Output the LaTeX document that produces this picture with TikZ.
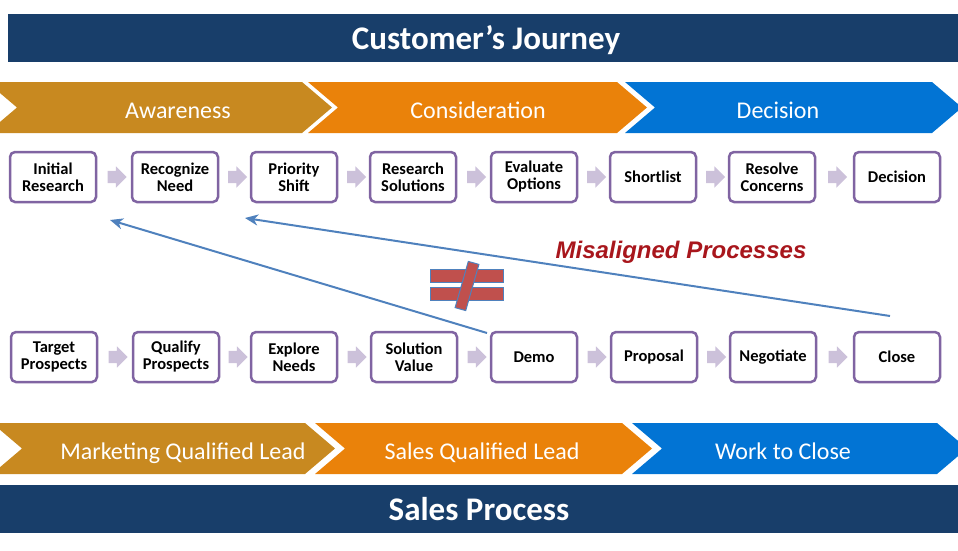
\documentclass[tikz,border=0pt]{standalone}
\usepackage{fontspec}
\setmainfont{Carlito}
\newfontfamily\alertfont{Liberation Sans}
\usetikzlibrary{shapes.arrows,arrows.meta,calc}

\definecolor{banner}{RGB}{24,62,106}
\definecolor{phasegold}{RGB}{200,137,32}
\definecolor{phaseorange}{RGB}{234,130,10}
\definecolor{phaseblue}{RGB}{2,116,212}
\definecolor{stageedge}{RGB}{128,100,162}
\definecolor{steparrow}{RGB}{204,193,218}
\definecolor{linkblue}{RGB}{79,129,189}
\definecolor{neqred}{RGB}{192,80,77}
\definecolor{alertred}{RGB}{168,22,28}

\tikzset{
  every stage/.style={draw=stageedge, line width=2.5pt, rounded corners=5pt,
    fill=white, minimum width=86pt, minimum height=50pt, inner sep=0pt,
    align=center, font=\bfseries\fontsize{16.5}{17}\selectfont},
  flow arrow/.style={single arrow, fill=steparrow, draw=none,
    minimum height=19pt, minimum width=21pt, single arrow head extend=4.5pt,
    inner xsep=0pt, inner ysep=6pt},
  phase label/.style={text=white, anchor=base, font=\fontsize{24}{24}\selectfont},
  banner label/.style={text=white, anchor=base, font=\bfseries\fontsize{33}{33}\selectfont},
  neq/.style={fill=neqred, draw=linkblue, line width=1pt},
  link/.style={draw=linkblue, line width=2pt, -{Stealth[length=13pt, width=11pt, inset=4pt]}}
}

\begin{document}
\begin{tikzpicture}[x=1pt, y=-1pt]
  \useasboundingbox (0,0) rectangle (958,551);

  % customer's journey
  \fill[banner] (8,14) rectangle (958,62);
  \node[banner label] (journey-title) at (486,50) {Customer’s Journey};

  \foreach \a/\b/\c in {-13/302/phasegold, 308/617/phaseorange, 625/932/phaseblue}
    \fill[\c] (\a,82) -- (\b,82) -- (\b+30,107.5) -- (\b,133) -- (\a,133) -- (\a+30,107.5) -- cycle;
  \foreach \l/\x [count=\i] in {Awareness/178, Consideration/478, Decision/778}
    \node[phase label] (journey-phase-\i) at (\x,118) {\l};

  \foreach \t/\x [count=\i] in {{Initial\\Research}/53, {Recognize\\Need}/175,
      {Priority\\Shift}/294, {Research\\Solutions}/413, {Evaluate\\Options}/534,
      Shortlist/653, {Resolve\\Concerns}/772, Decision/897}
    \node[every stage] (journey-\i) at (\x,177) {\t};
  \foreach \i [count=\j from 2] in {1,...,7}
    \node[flow arrow] (journey-step-\i) at ($(journey-\i.east)!0.5!(journey-\j.west)$) {};

  % sales process
  \foreach \t/\x [count=\i] in {{Target\\Prospects}/54, {Qualify\\Prospects}/176,
      {Explore\\Needs}/294, {Solution\\Value}/414, Demo/534,
      Proposal/654, Negotiate/773, Close/897}
    \node[every stage] (sales-\i) at (\x,357) {\t};
  \foreach \i [count=\j from 2] in {1,...,7}
    \node[flow arrow] (sales-step-\i) at ($(sales-\i.east)!0.5!(sales-\j.west)$) {};

  \foreach \a/\b/\c in {-8/305/phasegold, 315/622/phaseorange, 632/937/phaseblue}
    \fill[\c] (\a,423) -- (\b,423) -- (\b+30,448.5) -- (\b,474) -- (\a,474) -- (\a+30,448.5) -- cycle;
  \foreach \l/\x [count=\i] in {Marketing Qualified Lead/183, Sales Qualified Lead/482, Work to Close/783}
    \node[phase label] (sales-phase-\i) at (\x,459) {\l};

  \fill[banner] (0,485) rectangle (958,533);
  \node[banner label] (sales-title) at (479,520) {Sales Process};

  % not equal
  \draw[neq] (430,269) rectangle (503,282);
  \draw[neq] (430,287) rectangle (503,300);
  \draw[neq] (468.3,261.4) -- (478.9,264.4) -- (465.7,310.6) -- (455.1,307.6) -- cycle;

  % misaligned links
  \coordinate (demo-tail) at (487,333);
  \coordinate (research-head) at (110,220);
  \coordinate (close-tail) at (890,316);
  \coordinate (need-head) at (245,218);
  \draw[link] (demo-tail) -- (research-head);
  \draw[link] (close-tail) -- (need-head);
  \node[text=alertred, font=\alertfont\bfseries\itshape\fontsize{24}{24}\selectfont]
    (misaligned) at (681,252) {Misaligned Processes};
\end{tikzpicture}
\end{document}
